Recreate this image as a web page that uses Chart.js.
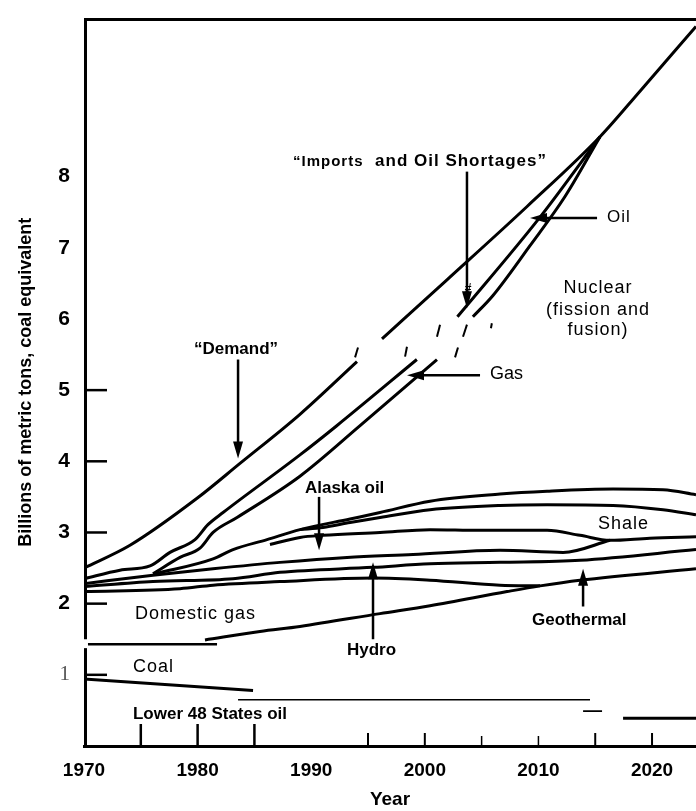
<!DOCTYPE html>
<html>
<head>
<meta charset="utf-8">
<script src="https://cdn.jsdelivr.net/npm/chart.js@4.4.1/dist/chart.umd.min.js"></script>
<style>
	html, body { margin: 0; padding: 0; background: #fff; }
	canvas { display: block; }
</style>
</head>
<body>
<canvas id="energyChart" width="696" height="811"></canvas>
<script>
// [year, billions of metric tons coal equivalent]
const demandEarly = [[1970, 2.50], [1974.05, 2.82], [1979.95, 3.48], [1983.73, 3.97], [1989.01, 4.66], [1994.03, 5.40]];
const demandLate = [[1996.23, 5.72], [2001.95, 6.55], [2009.0, 7.58], [2015.42, 8.56], [2018.94, 9.20], [2023.87, 10.11]];
const oilLower = [[1970, 2.35], [1973.17, 2.47], [1975.81, 2.53], [1977.57, 2.72], [1979.77, 2.90], [1980.91, 3.11], [1982.24, 3.28], [1989.01, 4.09], [1992.25, 4.50], [1999.30, 5.43]];
const oilUpper = [[2002.87, 6.03], [2010.09, 7.42], [2015.42, 8.56]];
const gasLower = [[1976.07, 2.42], [1978.45, 2.65], [1980.21, 2.78], [1981.36, 3.00], [1983.47, 3.21], [1989.01, 3.79], [1994.30, 4.50], [2001.07, 5.43]];
const nuclearTop = [[2004.23, 6.03], [2006.0, 6.33], [2009.26, 7.03], [2012.34, 7.72], [2015.42, 8.56]];
const alaskaTop = [[1976.25, 2.42], [1981.36, 2.63], [1983.12, 2.76], [1986.11, 2.90], [1989.01, 3.04], [1993.42, 3.19], [1996.06, 3.28], [2000.46, 3.44], [2006.62, 3.54], [2010.76, 3.58], [2016.57, 3.61], [2020.97, 3.60], [2023.87, 3.53]];
const alaskaMid = [[1989.01, 3.04], [1991.04, 3.07], [1993.42, 3.14], [1996.06, 3.21], [2000.46, 3.32], [2006.62, 3.38], [2010.76, 3.39], [2016.57, 3.38], [2020.97, 3.32], [2023.87, 3.25]];
const shaleTop = [[1986.37, 2.83], [1989.01, 2.93], [1991.04, 2.96], [1996.06, 3.00], [2000.46, 3.04], [2004.86, 3.03], [2010.76, 3.03], [2013.66, 2.96], [2016.30, 2.89], [2019.8, 2.92], [2023.87, 2.94]];
const shaleBottom = [[1970, 2.28], [1976.07, 2.40], [1981.36, 2.49], [1987.25, 2.58], [1993.15, 2.65], [1998.96, 2.69], [2006.62, 2.75], [2012.17, 2.72], [2016.30, 2.89]];
const hydroTop = [[1970, 2.24], [1976.07, 2.31], [1983.12, 2.35], [1987.25, 2.44], [1995.44, 2.51], [2000.46, 2.56], [2006.62, 2.58], [2013.66, 2.61], [2023.87, 2.76]];
const domesticGasTop = [[1970, 2.17], [1978.45, 2.21], [1981.36, 2.26], [1987.25, 2.31], [1995.44, 2.36], [2000.46, 2.33], [2006.62, 2.26], [2010.14, 2.25]];
const geothermalBase = [[1980.65, 1.49], [1985.49, 1.61], [1989.01, 1.68], [1996.06, 1.86], [2000.46, 1.97], [2007.24, 2.17], [2010.14, 2.25], [2013.66, 2.33], [2023.87, 2.49]];
const domesticGasBase = [[1970.35, 1.43], [1981.71, 1.43]];
const coalTop = [[1970, 0.94], [1984.88, 0.78]];
const lower48Top = [[1983.56, 0.65], [2014.54, 0.65]];
const lower48Step = [[2013.93, 0.49], [2015.6, 0.49]];
const lower48Tail = [[2017.45, 0.39], [2023.87, 0.39]];
// broken bits where the scan tore across the curves
const scanSlashes = [
	[[1993.86, 5.46], [1994.12, 5.60]],
	[[1998.26, 5.47], [1998.43, 5.61]],
	[[2002.66, 5.46], [2002.92, 5.60]],
	[[2001.07, 5.75], [2001.34, 5.92]],
	[[2003.36, 5.75], [2003.71, 5.92]],
	[[2005.90, 5.94], [2005.82, 5.87]]
];

const yearLabels = [1970, 1980, 1990, 2000, 2010, 2020];
const valueLabels = [1, 2, 3, 4, 5, 6, 7, 8];
const innerYearTicks = [1975, 1980, 1985, 1995, 2000, 2005, 2010, 2015, 2020];
const innerValueTicks = [1, 2, 3, 4, 5];
const axisBreak = [1.375, 1.5];

const arrows = [
	[[1983.56, 5.43], [1983.56, 4.04]],
	[[2003.71, 8.07], [2003.71, 6.15]],
	[[1990.69, 3.50], [1990.69, 2.75]],
	[[1995.44, 1.50], [1995.44, 2.58]],
	[[2013.93, 1.96], [2013.93, 2.49]],
	[[2015.16, 7.42], [2009.26, 7.42]],
	[[2004.86, 5.21], [1998.43, 5.21]]
];

const SANS = '"Liberation Sans", Arial, sans-serif';

const notes = [
	{ text: '\u201CImports', x: 1988.40, y: 8.21, font: 'bold 15px ' + SANS, align: 'left', spacing: '1px' },
	{ text: 'and Oil Shortages\u201D', x: 1995.62, y: 8.21, font: 'bold 17px ' + SANS, align: 'left', spacing: '1px' },
	{ text: '\u201CDemand\u201D', x: 1983.38, y: 5.58, font: 'bold 17px ' + SANS, align: 'center' },
	{ text: 'Oil', x: 2016.04, y: 7.43, font: '17px ' + SANS, align: 'left', spacing: '1px' },
	{ text: 'Nuclear', x: 2015.25, y: 6.43, font: '18px ' + SANS, align: 'center', spacing: '1px' },
	{ text: '(fission and', x: 2015.25, y: 6.125, font: '18px ' + SANS, align: 'center', spacing: '1px' },
	{ text: 'fusion)', x: 2015.25, y: 5.85, font: '18px ' + SANS, align: 'center', spacing: '1px' },
	{ text: 'Gas', x: 2005.74, y: 5.22, font: '18px ' + SANS, align: 'left' },
	{ text: 'Alaska oil', x: 1989.45, y: 3.625, font: 'bold 17px ' + SANS, align: 'left' },
	{ text: 'Shale', x: 2015.25, y: 3.125, font: '18px ' + SANS, align: 'left', spacing: '1px' },
	{ text: 'Domestic gas', x: 1974.49, y: 1.86, font: '18px ' + SANS, align: 'left', spacing: '1px' },
	{ text: 'Hydro', x: 1993.15, y: 1.35, font: 'bold 17px ' + SANS, align: 'left' },
	{ text: 'Geothermal', x: 2009.44, y: 1.76, font: 'bold 17px ' + SANS, align: 'left' },
	{ text: 'Coal', x: 1974.31, y: 1.11, font: '18px ' + SANS, align: 'left', spacing: '1px' },
	{ text: 'Lower 48 States oil', x: 1974.31, y: 0.44, font: 'bold 17px ' + SANS, align: 'left' },
	{ text: '#', x: 2003.80, y: 6.43, font: 'bold 12px ' + SANS, align: 'center' }
];

function curve(points, width) {
	return {
		data: points.map(p => ({ x: p[0], y: p[1] })),
		borderColor: '#000',
		borderWidth: width,
		pointRadius: 0,
		fill: false,
		cubicInterpolationMode: 'monotone'
	};
}

const datasets = [
	curve(demandEarly, 3), curve(demandLate, 3),
	curve(oilLower, 3), curve(oilUpper, 3),
	curve(gasLower, 3), curve(nuclearTop, 3),
	curve(alaskaTop, 3), curve(alaskaMid, 3),
	curve(shaleTop, 3), curve(shaleBottom, 3),
	curve(hydroTop, 3), curve(domesticGasTop, 3),
	curve(geothermalBase, 3), curve(domesticGasBase, 2.5),
	curve(coalTop, 3), curve(lower48Top, 1.6),
	curve(lower48Step, 1.6), curve(lower48Tail, 3)
];
scanSlashes.forEach(s => datasets.push(curve(s, 2)));

function line(ctx, x1, y1, x2, y2) {
	ctx.beginPath();
	ctx.moveTo(x1, y1);
	ctx.lineTo(x2, y2);
	ctx.stroke();
}

function arrow(ctx, x1, y1, x2, y2) {
	const a = Math.atan2(y2 - y1, x2 - x1);
	const len = 17, w = 5;
	const c = Math.cos(a), s = Math.sin(a);
	line(ctx, x1, y1, x2 - c * len * 0.7, y2 - s * len * 0.7);
	ctx.beginPath();
	ctx.moveTo(x2, y2);
	ctx.lineTo(x2 - len * c + w * s, y2 - len * s - w * c);
	ctx.lineTo(x2 - len * c - w * s, y2 - len * s + w * c);
	ctx.closePath();
	ctx.fill();
}

/* frame, inside ticks, arrows and the labels in the plot */
const overlay = {
	id: 'overlay',
	afterDatasetsDraw(chart) {
		const ctx = chart.ctx;
		const xs = chart.scales.x, ys = chart.scales.y;
		const area = chart.chartArea;
		ctx.save();
		ctx.strokeStyle = '#000';
		ctx.fillStyle = '#000';
		ctx.lineCap = 'butt';

		ctx.lineWidth = 3;
		line(ctx, area.left, area.top + 1, area.right, area.top + 1);
		line(ctx, area.left + 1.5, area.top, area.left + 1.5, ys.getPixelForValue(axisBreak[1]));
		line(ctx, area.left + 1.5, ys.getPixelForValue(axisBreak[0]), area.left + 1.5, area.bottom);

		ctx.lineWidth = 2.5;
		innerValueTicks.forEach(v => {
			const py = ys.getPixelForValue(v);
			line(ctx, area.left, py, area.left + 23, py);
		});

		innerYearTicks.forEach(yr => {
			const px = xs.getPixelForValue(yr);
			let h = 13;
			ctx.lineWidth = 2;
			if (yr < 1990) { h = 22; ctx.lineWidth = 2.5; }
			if (yr === 2005 || yr === 2010) { h = 10; ctx.lineWidth = 1.5; }
			line(ctx, px, area.bottom, px, area.bottom - h);
		});

		ctx.lineWidth = 2.5;
		arrows.forEach(a => {
			arrow(ctx, xs.getPixelForValue(a[0][0]), ys.getPixelForValue(a[0][1]),
				xs.getPixelForValue(a[1][0]), ys.getPixelForValue(a[1][1]));
		});

		ctx.textBaseline = 'middle';
		notes.forEach(n => {
			ctx.font = n.font;
			ctx.textAlign = n.align;
			ctx.letterSpacing = n.spacing || '0px';
			ctx.fillText(n.text, xs.getPixelForValue(n.x), ys.getPixelForValue(n.y));
		});
		ctx.restore();
	}
};

const chart = new Chart(document.getElementById('energyChart'), {
	type: 'line',
	data: { datasets: datasets },
	options: {
		responsive: false,
		animation: false,
		events: [],
		layout: { padding: { top: 10, right: 0, left: 0, bottom: 0 } },
		plugins: {
			legend: { display: false },
			tooltip: { enabled: false }
		},
		scales: {
			x: {
				type: 'linear',
				min: 1970,
				max: 2023.87,
				grid: { display: false },
				border: { display: true, width: 3, color: '#000' },
				afterBuildTicks: s => { s.ticks = yearLabels.map(v => ({ value: v })); },
				afterFit: s => { s.height = 65; },
				ticks: {
					padding: 5,
					maxRotation: 0,
					autoSkip: false,
					color: '#000',
					font: { family: SANS, size: 19, weight: 'bold' },
					callback: v => String(v)
				},
				title: {
					display: true,
					text: 'Year',
					color: '#000',
					padding: 0,
					font: { family: SANS, size: 19, weight: 'bold' }
				}
			},
			y: {
				type: 'linear',
				min: 0,
				max: 10.22,
				grid: { display: false },
				border: { display: false },
				afterBuildTicks: s => { s.ticks = valueLabels.map(v => ({ value: v })); },
				afterFit: s => { s.width = 84; },
				ticks: {
					padding: 6,
					color: c => (c.tick && c.tick.value === 1) ? '#555' : '#000',
					font: c => (c.tick && c.tick.value === 1)
						? { family: '"Liberation Serif", serif', size: 21, weight: 'normal' }
						: { family: SANS, size: 21, weight: 'bold' },
					callback: v => String(v)
				},
				title: {
					display: true,
					text: 'Billions of metric tons, coal equivalent',
					color: '#000',
					padding: { top: 15, bottom: 0 },
					font: { family: SANS, size: 18, weight: 'bold' }
				}
			}
		}
	},
	plugins: [overlay]
});
</script>
</body>
</html>
